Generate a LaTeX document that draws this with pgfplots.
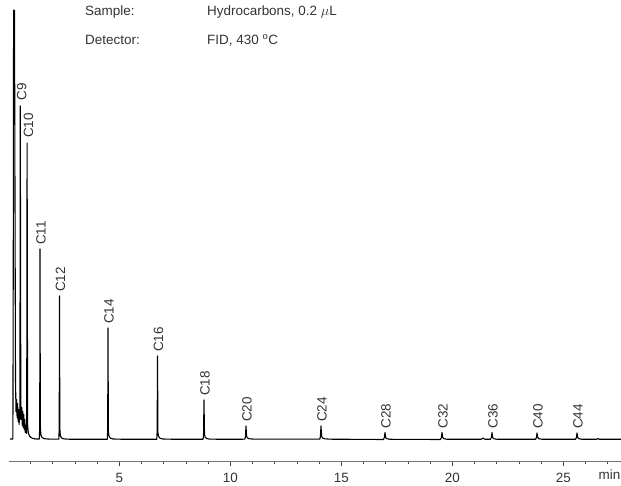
\documentclass[border=0pt]{standalone}
\usepackage{pgfplots}
\pgfplotsset{compat=1.18}
\usepackage{fontspec}
\setmainfont{Liberation Sans}
\newcommand{\lf}{\fontsize{13.5}{16}\selectfont}
\begin{document}
\begin{tikzpicture}
\begin{axis}[
 x=22.2bp, y=1bp,
 xmin=0.045, xmax=27.6, ymin=-22.2, ymax=439.5,
 axis x line=bottom, axis y line=none,
 x axis line style={-, draw=black!55, line width=0.8bp},
 xtick={5,10,15,20,25},
 minor xtick={1,2,3,4,6,7,8,9,11,12,13,14,16,17,18,19,21,22,23,24,26,27},
 tick align=outside,
 major tick length=4.5bp, minor tick length=2.5bp,
 every tick/.style={black!75, line width=0.8bp},
 xticklabel style={font=\lf, text=black!80, inner sep=0.5bp, yshift=-6.5bp},
 /pgf/number format/assume math mode=true,
 clip=false,
]
\addplot[black, line width=1.1bp, line join=round, mark=none] coordinates {
(0.0766,0.5) (0.2072,0.5) (0.2252,200) (0.2387,429.5) (0.2793,429) (0.3243,60)
(0.3468,28) (0.3739,40) (0.3964,22) (0.4189,36) (0.4414,18) (0.4640,30) (0.4865,15)
(0.5090,26) (0.5225,20) (0.5405,333.5) (0.5631,35) (0.5856,20) (0.6081,32) (0.6306,14)
(0.6532,28) (0.6757,12) (0.6982,25) (0.7207,10) (0.7432,20) (0.7658,7) (0.7883,14)
(0.8153,6) (0.8288,10) (0.8468,296.5) (0.8694,15) (0.9009,7) (0.9550,3.5) (1.0225,2)
(1.1126,1) (1.2477,0.5)
(1.400,0.5) (1.416,15) (1.428,190.5) (1.443,14) (1.465,5) (1.52,2) (1.62,0.8) (1.9,0.3)
(2.278,0.3) (2.294,12) (2.306,143.5) (2.321,11) (2.345,4) (2.40,1.5) (2.50,0.6) (2.8,0.2)
(4.460,0.2) (4.477,10) (4.491,111.5) (4.508,9) (4.535,3.5) (4.60,1.3) (4.72,0.5) (5.2,0.2)
(6.688,0.2) (6.705,8) (6.721,83.5) (6.740,7) (6.770,3) (6.84,1.2) (6.96,0.5) (7.5,0.2)
(8.775,0.2) (8.795,5) (8.815,39.5) (8.838,5) (8.870,2.2) (8.94,1) (9.06,0.4) (9.6,0.2)
(10.655,0.3) (10.685,3) (10.707,13.5) (10.735,3) (10.775,1.5) (10.86,0.7) (11.1,0.3)
(14.03,0.3) (14.06,3) (14.086,13.5) (14.115,3) (14.16,1.5) (14.25,0.7) (14.5,0.3)
(16.90,0) (16.94,2) (16.968,7) (17.00,2) (17.05,0.8) (17.2,0.2)
(19.47,0) (19.51,2) (19.536,7) (19.57,2) (19.62,0.8) (19.77,0.2)
(21.30,0.2) (21.38,1.5) (21.45,0.3)
(21.72,0.2) (21.76,2) (21.788,7) (21.82,2) (21.87,0.8) (22.02,0.2)
(23.75,0.2) (23.79,2) (23.815,6.5) (23.85,2) (23.90,0.8) (24.05,0.2)
(25.55,0.2) (25.59,2) (25.617,6.5) (25.65,2) (25.70,0.8) (25.85,0.2)
(26.50,0.2) (26.56,1) (26.62,0.2) (27.6,0.2)
};
\begin{scope}[every node/.style={rotate=90, anchor=west, inner sep=0pt, font=\lf, text=black!80}]
\node at (axis cs:0.60,339) {C9};
\node at (axis cs:0.905,301.5) {C10};
\node at (axis cs:1.473,194.5) {C11};
\node at (axis cs:2.351,147.5) {C12};
\node at (axis cs:4.536,115.5) {C14};
\node at (axis cs:6.766,87.5) {C16};
\node at (axis cs:8.86,43.5) {C18};
\node at (axis cs:10.752,17.5) {C20};
\node at (axis cs:14.131,17.5) {C24};
\node at (axis cs:17.013,11) {C28};
\node at (axis cs:19.581,11) {C32};
\node at (axis cs:21.833,11) {C36};
\node at (axis cs:23.86,10.5) {C40};
\node at (axis cs:25.662,10.5) {C44};
\end{scope}
\begin{scope}[every node/.style={anchor=base west, inner sep=0pt, font=\lf, text=black!80}]
\node at (axis cs:3.455,423.5) {Sample:};
\node at (axis cs:8.951,423.5) {Hydrocarbons, 0.2 $\mu$L};
\node at (axis cs:3.455,394.5) {Detector:};
\node at (axis cs:8.951,394.5) {FID, 430 \textsuperscript{o}C};
\node at (axis cs:26.58,-40.5) {min};
\end{scope}
\coordinate (bbl) at (axis cs:-0.3739,-46.5);
\coordinate (btr) at (axis cs:27.599,439.5);
\end{axis}
\pgfresetboundingbox
\path[use as bounding box] (bbl) rectangle (btr);
\end{tikzpicture}
\end{document}
